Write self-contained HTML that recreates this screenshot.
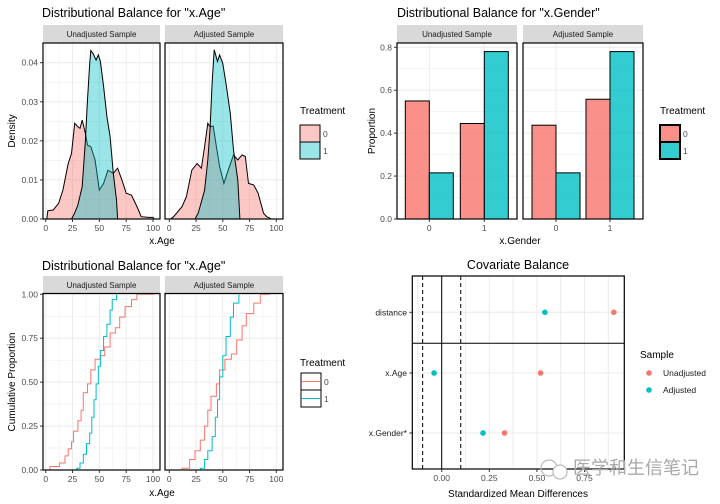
<!DOCTYPE html>
<html><head><meta charset="utf-8"><style>
html,body{margin:0;padding:0;background:#fff;}
svg{display:block;font-family:"Liberation Sans","Noto Sans CJK SC",sans-serif;}
</style></head><body>
<svg id="c" width="720" height="504" viewBox="0 0 720 504"></svg>
<script>
// ---- data ----
const ageTicks=[0,25,50,75,100];
const densUnadj0=[[1,0],[2,2.1],[7,2.3],[12,4],[16,7.4],[21,14.2],[24,16.8],[27,24.5],[30,23.6],[32,23.2],[34,25.3],[37,21.9],[39,18.9],[42,18.5],[46,15.1],[50,7.4],[54,9.1],[58,12.5],[63,11.7],[67,13],[71,10],[75,6.6],[80,6.1],[85,3.2],[89,0.6],[96,0.4],[100,0.4],[101,0]];
const densUnadj1=[[24,0],[27,1.5],[30,3.6],[34,8.3],[37,20.2],[39,30.5],[41,39.8],[42,43.1],[44,42.4],[47,40.7],[49,42],[51,40.3],[54,33.9],[57,26.2],[60,21.1],[63,11.7],[66,4.9],[67,0]];
const densAdj0=[[1,0],[4,0.6],[12,3.2],[16,5.7],[21,12.5],[26,14.2],[30,13],[33,18.5],[36,24.5],[38,23.6],[41,23.8],[44,18.5],[47,13.4],[51,9.1],[55,12.5],[60,16.4],[64,15.1],[68,16.4],[71,16],[74,9.1],[79,8.7],[83,6.6],[88,1.5],[91,0.6],[94,0.2],[95,0]];
const densAdj1=[[24,0],[27,1.5],[30,4.4],[33,7.4],[36,15.1],[38,22.8],[40,34.7],[42,43.3],[45,40.3],[47,42],[50,39.8],[53,34.7],[57,27],[60,17.7],[64,10],[66,0]];
const densTicks=[0,0.01,0.02,0.03,0.04];
const genderCats=[0,1];
const propUnadj0=[0.55,0.445];
const propUnadj1=[0.215,0.78];
const propAdj0=[0.437,0.558];
const propAdj1=[0.215,0.78];
const propTicks=[0,0.2,0.4,0.6,0.8];
const ecdfUnadj0=[[1,0],[4,0.02],[13,0.04],[18,0.08],[21,0.12],[24,0.16],[26,0.22],[30,0.28],[33,0.34],[35,0.44],[39,0.49],[42,0.57],[46,0.63],[51,0.65],[55,0.70],[60,0.78],[65,0.81],[69,0.87],[74,0.93],[80,0.97],[85,1],[102,1]];
const ecdfUnadj1=[[24,0],[29,0.01],[32,0.04],[35,0.09],[38,0.15],[41,0.21],[43,0.30],[45,0.40],[47,0.49],[49,0.59],[51,0.68],[54,0.76],[57,0.83],[60,0.91],[62,0.97],[66,1]];
const ecdfAdj0=[[4,0],[12,0.01],[19,0.06],[24,0.11],[29,0.17],[33,0.25],[36,0.34],[39,0.42],[44,0.49],[47,0.57],[52,0.63],[58,0.66],[63,0.74],[68,0.82],[72,0.89],[79,0.95],[85,1],[94,1]];
const ecdfAdj1=[[23,0],[29,0.01],[33,0.06],[36,0.11],[40,0.19],[43,0.30],[45,0.40],[47,0.53],[50,0.65],[53,0.76],[57,0.87],[60,0.95],[65,1]];
const cumTicks=[0,0.25,0.5,0.75,1];
const covariates=["distance","x.Age","x.Gender*"];
const smdUnadj=[0.904,0.519,0.33];
const smdAdj=[0.542,-0.04,0.217];
const smdTicks=[0,0.25,0.5,0.75];

const RED="#F8766D",CYAN="#00BFC4";
const svg=document.getElementById('c');
const NS="http://www.w3.org/2000/svg";
function mk(tag,at,p){const e=document.createElementNS(NS,tag);for(const k in at)e.setAttribute(k,at[k]);(p||svg).appendChild(e);return e;}
function txt(s,x,y,size,fill,anchor,p,rot){const t=mk('text',{x:x,y:y,'font-size':size,fill:fill,'text-anchor':anchor||'start'},p);if(rot)t.setAttribute('transform','rotate(-90 '+x+' '+y+')');t.textContent=s;return t;}
function lin(d0,d1,r0,r1){return v=>r0+(v-d0)/(d1-d0)*(r1-r0);}

function title(s,x,y,name,anchor){const t=txt(s,x,y,12.5,'#000',anchor);

}

function strip(x0,x1,y0,y1,s){const g=mk('g',{});


mk('rect',{x:x0,y:y0,width:x1-x0,height:y1-y0,fill:'#d9d9d9'},g);txt(s,(x0+x1)/2,y0+12,8,'#1a1a1a','middle',g);}

function grid(g,x0,x1,y0,y1,xs,ys){
 xs.filter(([v])=>v>x0+0.5&&v<x1-0.5).forEach(([v,maj])=>mk('line',{x1:v,x2:v,y1:y0,y2:y1,stroke:'#ebebeb','stroke-width':maj?1:0.5},g));
 ys.filter(([v])=>v>y0+0.5&&v<y1-0.5).forEach(([v,maj])=>mk('line',{x1:x0,x2:x1,y1:v,y2:v,stroke:'#ebebeb','stroke-width':maj?1:0.5},g));}
function withMinor(ticks){const r=[];ticks.forEach((t,i)=>{r.push([t,1]);if(i<ticks.length-1)r.push([(t+ticks[i+1])/2,0]);});const st=ticks[1]-ticks[0];r.push([ticks[0]-st/2,0]);r.push([ticks[ticks.length-1]+st/2,0]);return r;}

function yAxis(ticks,fy,x,fmt){const g=mk('g',{});


ticks.forEach(t=>{const y=fy(t);mk('line',{x1:x-3,x2:x,y1:y,y2:y,stroke:'#333'},g);txt(fmt(t),x-5,y+3,8.5,'#4d4d4d','end',g);});}
function xAxis(ticks,fx,y,fmt){const g=mk('g',{});


ticks.forEach(t=>{const x=fx(t);mk('line',{x1:x,x2:x,y1:y,y2:y+3,stroke:'#333'},g);txt(fmt(t),x,y+12,8.5,'#4d4d4d','middle',g);});}

// ---------- density panels ----------
function densPanel(x0,x1,ax0,ax100,d0,d1,name){
 const fx=lin(0,100,ax0,ax100),fy=lin(0,0.04,219,62.7);
 const g=mk('g',{});
 
 
 grid(g,x0,x1,43,219,withMinor(ageTicks).map(([v,m])=>[fx(v),m]),withMinor(densTicks).map(([v,m])=>[fy(v),m]));
 [[d0,RED,'density-treatment-0'],[d1,CYAN,'density-treatment-1']].forEach(([d,col,n])=>{
  const p=mk('path',{d:'M'+d.map(([a,v])=>fx(a).toFixed(1)+','+fy(v/1000).toFixed(1)).join('L')+'Z',fill:col,'fill-opacity':0.4,stroke:'#000','stroke-width':1},g);
  
  });
 mk('rect',{x:x0,y:43,width:x1-x0,height:176,fill:'none',stroke:'#000','stroke-width':1.2},g);
 xAxis(ageTicks,fx,219,v=>v);
 return fy;}
title('Distributional Balance for "x.Age"',42,17,'age-density-title');
strip(43,160,25,43,'Unadjusted Sample');strip(165,283,25,43,'Adjusted Sample');
let fyd=densPanel(43,160,45.7,153,densUnadj0,densUnadj1,'density-unadjusted-panel');
densPanel(165,283,169.3,276.3,densAdj0,densAdj1,'density-adjusted-panel');
yAxis(densTicks,fyd,43,v=>v.toFixed(2));
txt('Density',15,131,10,'#000','middle',null,true);
txt('x.Age',162,244,10,'#000','middle');

function fillLegend(x,y,cols,alpha,thick,name){const g=mk('g',{});
 
 
 txt('Treatment',x,y,10,'#000','start',g);
 cols.forEach((c,i)=>{mk('rect',{x:x,y:y+11+i*17,width:20,height:17,fill:c,'fill-opacity':alpha,stroke:'#000','stroke-width':thick},g);txt(String(i),x+23,y+23+i*17,8.5,'#4d4d4d','start',g);});}
fillLegend(300,114,[RED,CYAN],0.4,1,'density-legend');

// ---------- gender bars ----------
title('Distributional Balance for "x.Gender"',397,17,'gender-title');
strip(397,517,25,43,'Unadjusted Sample');strip(523,643,25,43,'Adjusted Sample');
const fyb=lin(0,0.8,219,47.3);
function barPanel(x0,x1,c0,c1,p0,p1,name){
 const fx=lin(0,1,c0,c1);const g=mk('g',{});
 
 
 grid(g,x0,x1,43,219,genderCats.map(v=>[fx(v),1]),withMinor(propTicks).map(([v,m])=>[fyb(v),m]));
 const bw=24;
 genderCats.forEach((cat,i)=>{
  [[p0[i],RED,-bw],[p1[i],CYAN,0]].forEach(([v,col,off],k)=>{
   const r=mk('rect',{x:fx(cat)+off,y:fyb(v),width:bw,height:fyb(0)-fyb(v),fill:col,'fill-opacity':0.8,stroke:'#000','stroke-width':1},g);
   
   });});
 mk('rect',{x:x0,y:43,width:x1-x0,height:176,fill:'none',stroke:'#000','stroke-width':1.2},g);
 xAxis(genderCats,fx,219,v=>v);}
barPanel(397,517,429.3,484.3,propUnadj0,propUnadj1,'gender-unadjusted-panel');
barPanel(523,643,556,610,propAdj0,propAdj1,'gender-adjusted-panel');
yAxis(propTicks,fyb,397,v=>v.toFixed(1));
txt('Proportion',375,131,10,'#000','middle',null,true);
txt('x.Gender',520,244,10,'#000','middle');
fillLegend(660,114,[RED,CYAN],0.8,2,'gender-legend');

// ---------- ECDF ----------
title('Distributional Balance for "x.Age"',42,270,'age-ecdf-title');
strip(43,160,276,293.5,'Unadjusted Sample');strip(165,283,276,293.5,'Adjusted Sample');
const fyc=lin(0,1,470,294.3);
function ecdfPanel(x0,x1,ax0,ax100,e0,e1,name){
 const fx=lin(0,100,ax0,ax100);const g=mk('g',{});
 
 
 grid(g,x0,x1,293.5,470,withMinor(ageTicks).map(([v,m])=>[fx(v),m]),withMinor(cumTicks).map(([v,m])=>[fyc(v),m]));
 [[e0,RED,'ecdf-treatment-0'],[e1,CYAN,'ecdf-treatment-1']].forEach(([d,col,n])=>{
  let s='M'+fx(d[0][0]).toFixed(1)+','+fyc(d[0][1]).toFixed(1);
  for(let i=1;i<d.length;i++){s+='H'+fx(d[i][0]).toFixed(1)+'V'+fyc(d[i][1]).toFixed(1);}
  const p=mk('path',{d:s,fill:'none',stroke:col,'stroke-width':1},g);
  
  });
 mk('rect',{x:x0,y:293.5,width:x1-x0,height:176.5,fill:'none',stroke:'#000','stroke-width':1.2},g);
 xAxis(ageTicks,fx,470,v=>v);}
ecdfPanel(43,160,45.7,153,ecdfUnadj0,ecdfUnadj1,'ecdf-unadjusted-panel');
ecdfPanel(165,283,169.3,276.3,ecdfAdj0,ecdfAdj1,'ecdf-adjusted-panel');
yAxis(cumTicks,fyc,43,v=>v.toFixed(2));
txt('Cumulative Proportion',15,382,10,'#000','middle',null,true);
txt('x.Age',162,496,10,'#000','middle');
(function(){const g=mk('g',{});
 
 
 txt('Treatment',300,366,10,'#000','start',g);
 [RED,CYAN].forEach((c,i)=>{mk('rect',{x:301,y:373+i*17,width:20,height:17,fill:'#fff',stroke:'#000'},g);mk('line',{x1:302,x2:320,y1:381.5+i*17,y2:381.5+i*17,stroke:c},g);txt(String(i),324,385+i*17,8.5,'#4d4d4d','start',g);});})();

// ---------- Love plot ----------
title('Covariate Balance',518,269,'covariate-balance-title','middle');
const fxs=lin(0,0.25,441.7,489.3);
const rowY=[312.3,373,433];
(function(){const g=mk('g',{});
 
 
 const vx=[-0.125,0,0.125,0.25,0.375,0.5,0.625,0.75,0.875].map(v=>[fxs(v),1]);
 grid(g,412.3,624.3,276,469,vx,rowY.map(v=>[v,1]));
 mk('line',{x1:fxs(0),x2:fxs(0),y1:276,y2:469,stroke:'#000','stroke-width':1},g);
 [-0.1,0.1].forEach(v=>{const l=mk('line',{x1:fxs(v),x2:fxs(v),y1:276,y2:469,stroke:'#000','stroke-dasharray':'4,3'},g);
  
  });
 mk('line',{x1:412.3,x2:624.3,y1:343.3,y2:343.3,stroke:'#000','stroke-width':1},g);
 covariates.forEach((c,i)=>{
  [[smdUnadj[i],RED,'unadjusted'],[smdAdj[i],CYAN,'adjusted']].forEach(([v,col,n])=>{
   const p=mk('circle',{cx:fxs(v),cy:rowY[i],r:2.8,fill:col},g);
   
   });
  mk('line',{x1:409.3,x2:412.3,y1:rowY[i],y2:rowY[i],stroke:'#333'},g);
  txt(c,407,rowY[i]+3,8.5,'#1a1a1a','end',g);});
 mk('rect',{x:412.3,y:276,width:212,height:193,fill:'none',stroke:'#000','stroke-width':1.2},g);})();
xAxis(smdTicks,fxs,469,v=>v.toFixed(2));
txt('Standardized Mean Differences',518,497,10,'#000','middle');
(function(){const g=mk('g',{});
 
 
 txt('Sample',640,358,10,'#000','start',g);
 [[RED,'Unadjusted'],[CYAN,'Adjusted']].forEach(([c,s],i)=>{mk('circle',{cx:649,cy:373+i*17,r:2.8,fill:c},g);txt(s,663,376+i*17,8.5,'#1a1a1a','start',g);});})();
// watermark
(function(){const g=mk('g',{});
 
 
 mk('circle',{cx:549,cy:468,r:8,fill:'none',stroke:'#bbb','stroke-width':1.2},g);
 mk('circle',{cx:560,cy:472,r:7,fill:'#fff',stroke:'#bbb','stroke-width':1.2},g);
 txt('医学和生信笔记',573,474,18,'#a8a8a8','start',g);})();
</script>
</body></html>
